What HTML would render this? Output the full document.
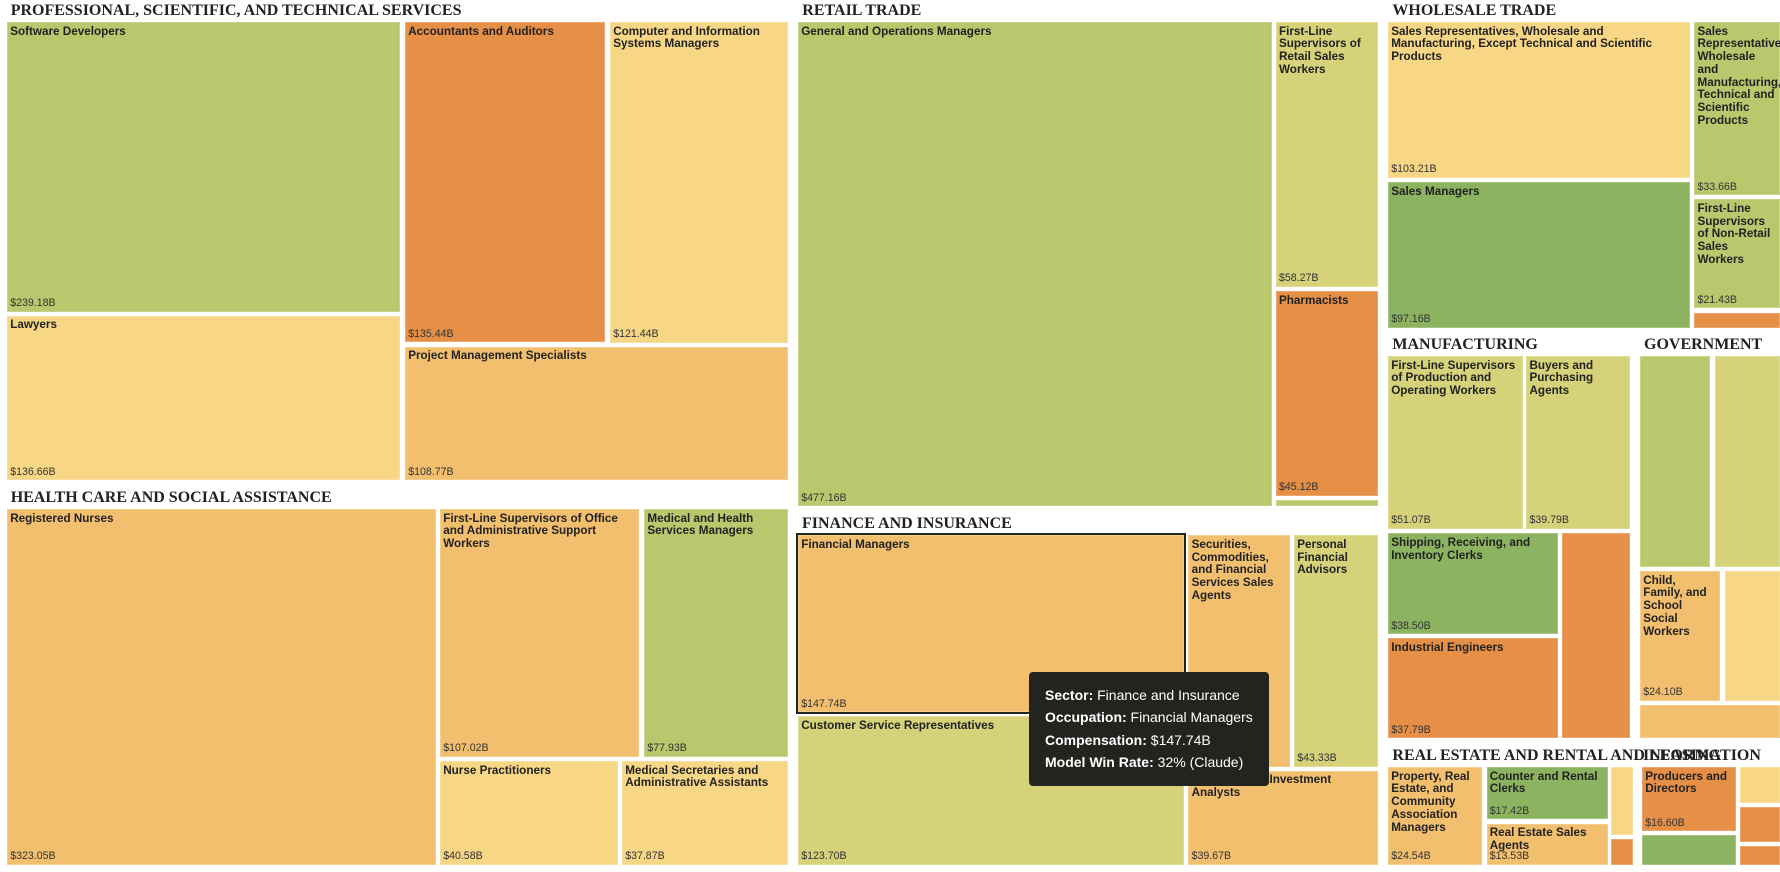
<!DOCTYPE html>
<html>
<head>
<meta charset="utf-8">
<style>
html,body{margin:0;padding:0;}
body{width:1780px;height:872px;overflow:hidden;background:#fff;position:relative;font-family:"Liberation Sans",Arial,sans-serif;}
.c{position:absolute;box-sizing:border-box;box-shadow:inset 0 0 0 1px rgba(255,255,255,.22);}
.l{position:absolute;left:3.2px;top:3.5px;font-weight:bold;font-size:11.7px;line-height:12.8px;color:#222;white-space:nowrap;}
.v{position:absolute;left:3.2px;bottom:2.4px;font-size:10.6px;line-height:12px;color:#333;white-space:nowrap;}
.t{position:absolute;font-family:"Liberation Serif",serif;font-weight:bold;font-size:16px;line-height:16px;color:#222;white-space:nowrap;}
.g1{background:#b9c86c;}
.yg{background:#d5d27a;}
.y{background:#f7d786;}
.lo{background:#f2bf6e;}
.o{background:#e68f46;}
.g2{background:#8cb460;}
.hl{position:absolute;box-sizing:border-box;border:2.4px solid #22241e;}
.tip{position:absolute;left:1029px;top:672.3px;width:240px;height:113.4px;background:#23231f;border-radius:4px;color:#fff;}
.tip .in{position:absolute;left:16px;top:11.7px;font-size:14px;line-height:22.4px;white-space:nowrap;}
.tip b{font-weight:bold;}
</style>
</head>
<body>

<!-- Titles -->
<div class="t" style="left:10.7px;top:2.6px;">PROFESSIONAL, SCIENTIFIC, AND TECHNICAL SERVICES</div>
<div class="t" style="left:10.7px;top:489.9px;">HEALTH CARE AND SOCIAL ASSISTANCE</div>
<div class="t" style="left:802.3px;top:2.6px;">RETAIL TRADE</div>
<div class="t" style="left:802px;top:515.9px;">FINANCE AND INSURANCE</div>
<div class="t" style="left:1392.4px;top:2.6px;">WHOLESALE TRADE</div>
<div class="t" style="left:1392.4px;top:337.3px;">MANUFACTURING</div>
<div class="t" style="left:1644px;top:337.3px;">GOVERNMENT</div>
<div class="t" style="left:1392.4px;top:747.6px;">REAL ESTATE AND RENTAL AND LEASING</div>
<div class="t" style="left:1643px;top:747.6px;">INFORMATION</div>

<!-- Professional -->
<div class="c g1" style="left:7px;top:22px;width:393.4px;height:289.7px;"><div class="l">Software Developers</div><div class="v">$239.18B</div></div>
<div class="c y" style="left:7px;top:315.5px;width:393.4px;height:164.5px;"><div class="l">Lawyers</div><div class="v">$136.66B</div></div>
<div class="c o" style="left:405px;top:22px;width:200px;height:320.3px;"><div class="l">Accountants and Auditors</div><div class="v">$135.44B</div></div>
<div class="c y" style="left:610px;top:22px;width:177.7px;height:320.5px;"><div class="l">Computer and Information<br>Systems Managers</div><div class="v">$121.44B</div></div>
<div class="c lo" style="left:405px;top:346.7px;width:382.7px;height:133.3px;"><div class="l">Project Management Specialists</div><div class="v">$108.77B</div></div>

<!-- Health -->
<div class="c lo" style="left:7px;top:509px;width:428.5px;height:355.7px;"><div class="l">Registered Nurses</div><div class="v">$323.05B</div></div>
<div class="c lo" style="left:440px;top:509px;width:199px;height:247.7px;"><div class="l">First-Line Supervisors of Office<br>and Administrative Support<br>Workers</div><div class="v">$107.02B</div></div>
<div class="c g1" style="left:644.2px;top:509px;width:143.5px;height:247.7px;"><div class="l">Medical and Health<br>Services Managers</div><div class="v">$77.93B</div></div>
<div class="c y" style="left:440px;top:761px;width:177.7px;height:103.7px;"><div class="l">Nurse Practitioners</div><div class="v">$40.58B</div></div>
<div class="c y" style="left:622px;top:761px;width:165.7px;height:103.7px;"><div class="l">Medical Secretaries and<br>Administrative Assistants</div><div class="v">$37.87B</div></div>

<!-- Retail -->
<div class="c g1" style="left:798px;top:22px;width:473.8px;height:484.3px;"><div class="l">General and Operations Managers</div><div class="v">$477.16B</div></div>
<div class="c yg" style="left:1275.8px;top:22px;width:102.2px;height:264.7px;"><div class="l">First-Line<br>Supervisors of<br>Retail Sales<br>Workers</div><div class="v">$58.27B</div></div>
<div class="c o" style="left:1275.8px;top:291px;width:102.2px;height:204.7px;"><div class="l">Pharmacists</div><div class="v">$45.12B</div></div>
<div class="c g1" style="left:1275.8px;top:500px;width:102.2px;height:6.3px;"></div>

<!-- Finance -->
<div class="c lo" style="left:798px;top:535.3px;width:385.5px;height:176.7px;"><div class="l">Financial Managers</div><div class="v">$147.74B</div></div>
<div class="hl" style="left:795.7px;top:532.7px;width:390.3px;height:181.6px;"></div>
<div class="c lo" style="left:1188.4px;top:535.3px;width:101.8px;height:231.4px;"><div class="l">Securities,<br>Commodities,<br>and Financial<br>Services Sales<br>Agents</div></div>
<div class="c yg" style="left:1294px;top:535.3px;width:84px;height:231.4px;"><div class="l">Personal<br>Financial<br>Advisors</div><div class="v">$43.33B</div></div>
<div class="c yg" style="left:798px;top:716px;width:385.5px;height:148.7px;"><div class="l">Customer Service Representatives</div><div class="v">$123.70B</div></div>
<div class="c lo" style="left:1188.4px;top:770.7px;width:189.6px;height:94px;"><div class="l">Financial and Investment<br>Analysts</div><div class="v">$39.67B</div></div>

<!-- Wholesale -->
<div class="c y" style="left:1388px;top:22px;width:302.2px;height:155.7px;"><div class="l">Sales Representatives, Wholesale and<br>Manufacturing, Except Technical and Scientific<br>Products</div><div class="v">$103.21B</div></div>
<div class="c g2" style="left:1388px;top:182px;width:302.2px;height:145.7px;"><div class="l">Sales Managers</div><div class="v">$97.16B</div></div>
<div class="c g1" style="left:1694.3px;top:22px;width:85.7px;height:173px;"><div class="l">Sales<br>Representatives,<br>Wholesale<br>and<br>Manufacturing,<br>Technical and<br>Scientific<br>Products</div><div class="v">$33.66B</div></div>
<div class="c g1" style="left:1694.3px;top:199.3px;width:85.7px;height:109px;"><div class="l">First-Line<br>Supervisors<br>of Non-Retail<br>Sales<br>Workers</div><div class="v">$21.43B</div></div>
<div class="c o" style="left:1694.3px;top:312.7px;width:85.7px;height:15px;"></div>

<!-- Manufacturing -->
<div class="c yg" style="left:1388px;top:356px;width:134.5px;height:172.7px;"><div class="l">First-Line Supervisors<br>of Production and<br>Operating Workers</div><div class="v">$51.07B</div></div>
<div class="c yg" style="left:1526.3px;top:356px;width:103.7px;height:172.7px;"><div class="l">Buyers and<br>Purchasing<br>Agents</div><div class="v">$39.79B</div></div>
<div class="c g2" style="left:1388px;top:533.3px;width:169.7px;height:100.7px;"><div class="l">Shipping, Receiving, and<br>Inventory Clerks</div><div class="v">$38.50B</div></div>
<div class="c o" style="left:1388px;top:638.3px;width:169.7px;height:100px;"><div class="l">Industrial Engineers</div><div class="v">$37.79B</div></div>
<div class="c o" style="left:1561.6px;top:533.3px;width:68.4px;height:205px;"></div>

<!-- Government -->
<div class="c g1" style="left:1640px;top:356px;width:70px;height:210.7px;"></div>
<div class="c yg" style="left:1714.5px;top:356px;width:65.5px;height:210.7px;"></div>
<div class="c lo" style="left:1640px;top:571px;width:80.4px;height:129.7px;"><div class="l">Child,<br>Family, and<br>School<br>Social<br>Workers</div><div class="v">$24.10B</div></div>
<div class="c y" style="left:1725px;top:571px;width:55px;height:129.7px;"></div>
<div class="c lo" style="left:1640px;top:705.3px;width:140px;height:33px;"></div>

<!-- Real Estate -->
<div class="c lo" style="left:1388px;top:767px;width:94.3px;height:97.7px;"><div class="l">Property, Real<br>Estate, and<br>Community<br>Association<br>Managers</div><div class="v">$24.54B</div></div>
<div class="c g2" style="left:1486.5px;top:767px;width:121px;height:52.3px;"><div class="l">Counter and Rental<br>Clerks</div><div class="v">$17.42B</div></div>
<div class="c lo" style="left:1486.5px;top:823.7px;width:121px;height:41px;"><div class="l">Real Estate Sales<br>Agents</div><div class="v">$13.53B</div></div>
<div class="c y" style="left:1611.3px;top:767px;width:21.4px;height:68px;"></div>
<div class="c o" style="left:1611.3px;top:839px;width:21.4px;height:25.7px;"></div>

<!-- Information -->
<div class="c o" style="left:1642px;top:767px;width:94px;height:64.3px;"><div class="l">Producers and<br>Directors</div><div class="v">$16.60B</div></div>
<div class="c g2" style="left:1642px;top:835.3px;width:94px;height:29.4px;"></div>
<div class="c y" style="left:1740px;top:767px;width:40px;height:35.7px;"></div>
<div class="c o" style="left:1740px;top:807px;width:40px;height:35px;"></div>
<div class="c o" style="left:1740px;top:846px;width:40px;height:18.7px;"></div>

<!-- Tooltip -->
<div class="tip"><div class="in"><b>Sector:</b> Finance and Insurance<br><b>Occupation:</b> Financial Managers<br><b>Compensation:</b> $147.74B<br><b>Model Win Rate:</b> 32% (Claude)</div></div>

</body>
</html>
